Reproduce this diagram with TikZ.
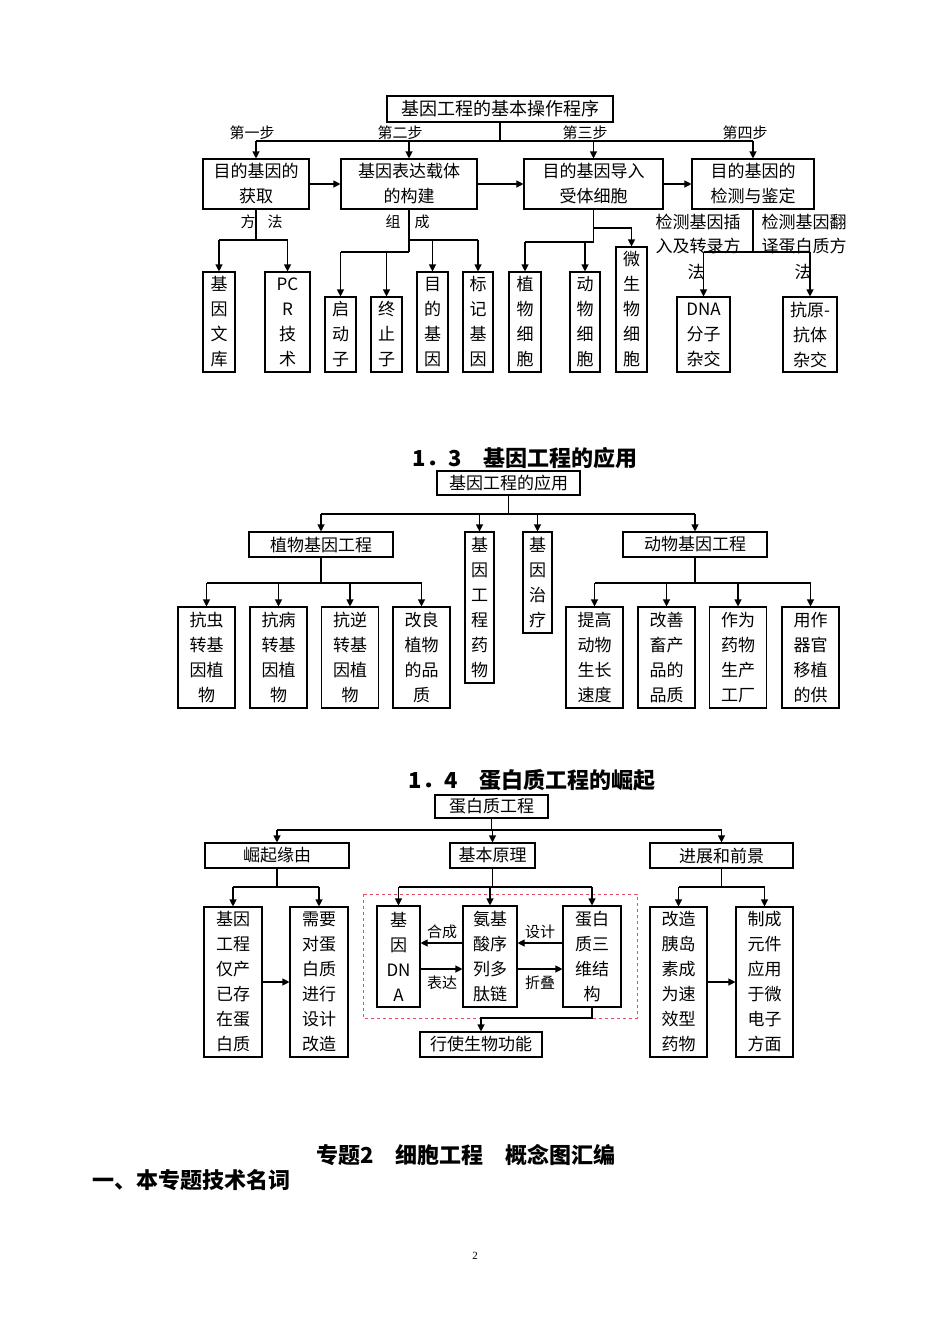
\documentclass[tikz,border=0pt]{standalone}
\usepackage{fontspec}
\setmainfont{Noto Sans CJK SC}
\newfontfamily\pagefont{Liberation Serif}
\usetikzlibrary{arrows.meta}
\definecolor{dashred}{RGB}{225,80,100}

\begin{document}
\begin{tikzpicture}[x=1pt,y=-1pt,line width=1.1pt,
  box/.style={draw,inner sep=0pt,align=center,font=\fontsize{17}{25}\selectfont},
  arr/.style={-{Triangle[length=7pt,width=7pt]}},
  lbl/.style={inner sep=0pt,font=\fontsize{15}{24}\selectfont},
  head/.style={inner sep=0pt,font=\bfseries\fontsize{22}{22}\selectfont}]
\fill[white] (0,0) rectangle (950,1344);

% basic operation steps
\node[box,minimum width=226,minimum height=26,font=\fontsize{18}{25}\selectfont] (t0) at (500,109) {基因工程的基本操作程序};
\node[box,minimum width=106,minimum height=50] (b1) at (256,184) {目的基因的\\获取};
\node[box,minimum width=136,minimum height=50] (b2) at (409,184) {基因表达载体\\的构建};
\node[box,minimum width=139,minimum height=50] (b3) at (593.5,184) {目的基因导入\\受体细胞};
\node[box,minimum width=122,minimum height=50] (b4) at (753,184) {目的基因的\\检测与鉴定};

\node[box,minimum width=32,minimum height=100] (k1) at (219,322) {基\\因\\文\\库};
\node[box,minimum width=45,minimum height=100] (k2) at (287.5,322) {PC\\R\\技\\术};
\node[box,minimum width=31,minimum height=75] (k3) at (340.5,334.5) {启\\动\\子};
\node[box,minimum width=31,minimum height=75] (k4) at (386.5,334.5) {终\\止\\子};
\node[box,minimum width=31,minimum height=100] (k5) at (432.5,322) {目\\的\\基\\因};
\node[box,minimum width=30,minimum height=100] (k6) at (478,322) {标\\记\\基\\因};
\node[box,minimum width=32,minimum height=100] (k7) at (525,322) {植\\物\\细\\胞};
\node[box,minimum width=30,minimum height=100] (k8) at (585,322) {动\\物\\细\\胞};
\node[box,minimum width=31,minimum height=125] (k9) at (631.5,309.5) {微\\生\\物\\细\\胞};
\node[box,minimum width=53,minimum height=75] (k10) at (703.5,334.5) {DNA\\分子\\杂交};
\node[box,minimum width=54,minimum height=75] (k11) at (810,334.5) {抗原-\\抗体\\杂交};

\node[lbl] (st1) at (252,133) {第一步};
\node[lbl] (st2) at (400,133) {第二步};
\node[lbl] (st3) at (585,133) {第三步};
\node[lbl] (st4) at (745,133) {第四步};
\node[lbl] (fa1) at (248,222) {方};
\node[lbl] (fa2) at (275,222) {法};
\node[lbl] (zu1) at (393,222) {组};
\node[lbl] (zu2) at (422,222) {成};
\node[lbl,align=center,font=\fontsize{17}{24}\selectfont] (jc1) at (698,234) {检测基因插\\入及转录方};
\node[lbl,font=\fontsize{17}{24}\selectfont] (jc2) at (696,272) {法};
\node[lbl,align=center,font=\fontsize{17}{24}\selectfont] (jc3) at (804,234) {检测基因翻\\译蛋白质方};
\node[lbl,font=\fontsize{17}{24}\selectfont] (jc4) at (803,272) {法};

\coordinate (sl) at (0,141);
\coordinate (j1) at (0,240);
\coordinate (j2) at (0,228);
\coordinate (j3) at (0,252);
\coordinate (j4) at (0,242);

\draw (t0.south) -- (t0.south |- sl);
\draw (b1.north |- sl) -- (b4.north |- sl);
\foreach \n in {b1,b2,b3,b4} \draw[arr] (\n.north |- sl) -- (\n.north);
\foreach \p/\q in {b1/b2,b2/b3,b3/b4} \draw[arr] (\p) -- (\q);
% step 1
\draw (b1.south) -- (b1.south |- j1);
\draw (k1.north |- j1) -- (k2.north |- j1);
\foreach \n in {k1,k2} \draw[arr] (\n.north |- j1) -- (\n.north);
% step 2
\draw (b2.south) -- (b2.south |- j3);
\draw (k3.north |- j3) -- (b2.south |- j3);
\draw (b2.south |- j1) -- (k6.north |- j1);
\foreach \n in {k3,k4} \draw[arr] (\n.north |- j3) -- (\n.north);
\foreach \n in {k5,k6} \draw[arr] (\n.north |- j1) -- (\n.north);
% step 3
\draw (b3.south) -- (b3.south |- j4);
\draw (k7.north |- j4) -- (b3.south |- j4);
\draw[arr] (b3.south |- j2) -| (k9.north);
\foreach \n in {k7,k8} \draw[arr] (\n.north |- j4) -- (\n.north);
% step 4
\draw (b4.south) -- (b4.south |- j3);
\draw (k10.north |- j3) -- (k11.north |- j3);
\foreach \n in {k10,k11} \draw[arr] (\n.north |- j3) -- (\n.north);

% 1.3 applications
\node[head] (h13) at (525,458) {1．3　基因工程的应用};
\node[box,minimum width=143,minimum height=24] (a0) at (508.5,483) {基因工程的应用};
\node[box,minimum width=144,minimum height=25] (a1) at (321,544.5) {植物基因工程};
\node[box,minimum width=29,minimum height=151] (a2) at (479.5,607.5) {基\\因\\工\\程\\药\\物};
\node[box,minimum width=29,minimum height=101] (a3) at (537.5,582.5) {基\\因\\治\\疗};
\node[box,minimum width=144,minimum height=25] (a4) at (695,544.5) {动物基因工程};

\node[box,minimum width=57,minimum height=101] (p1) at (206.5,657.5) {抗虫\\转基\\因植\\物};
\node[box,minimum width=57,minimum height=101] (p2) at (278.5,657.5) {抗病\\转基\\因植\\物};
\node[box,minimum width=57,minimum height=101] (p3) at (350,657.5) {抗逆\\转基\\因植\\物};
\node[box,minimum width=57,minimum height=101] (p4) at (421.5,657.5) {改良\\植物\\的品\\质};
\node[box,minimum width=57,minimum height=101] (q1) at (594.5,657.5) {提高\\动物\\生长\\速度};
\node[box,minimum width=57,minimum height=101] (q2) at (666.5,657.5) {改善\\畜产\\品的\\品质};
\node[box,minimum width=57,minimum height=101] (q3) at (738,657.5) {作为\\药物\\生产\\工厂};
\node[box,minimum width=57,minimum height=101] (q4) at (810.5,657.5) {用作\\器官\\移植\\的供};

\coordinate (c1) at (0,514);
\coordinate (c2) at (0,583);
\draw (a0.south) -- (a0.south |- c1);
\draw (a1.north |- c1) -- (a4.north |- c1);
\foreach \n in {a1,a2,a3,a4} \draw[arr] (\n.north |- c1) -- (\n.north);
\draw (a1.south) -- (a1.south |- c2);
\draw (p1.north |- c2) -- (p4.north |- c2);
\foreach \n in {p1,p2,p3,p4} \draw[arr] (\n.north |- c2) -- (\n.north);
\draw (a4.south) -- (a4.south |- c2);
\draw (q1.north |- c2) -- (q4.north |- c2);
\foreach \n in {q1,q2,q3,q4} \draw[arr] (\n.north |- c2) -- (\n.north);

% 1.4 protein engineering
\node[head] (h14) at (532,780) {1．4　蛋白质工程的崛起};
\node[box,minimum width=113,minimum height=23] (r0) at (491.5,806.5) {蛋白质工程};
\node[box,minimum width=144,minimum height=25] (r1) at (277,855.5) {崛起缘由};
\node[box,minimum width=85,minimum height=25] (r2) at (492.5,855.5) {基本原理};
\node[box,minimum width=143,minimum height=25] (r3) at (721.5,855.5) {进展和前景};

\node[box,minimum width=58,minimum height=150] (s1) at (233,982) {基因\\工程\\仅产\\已存\\在蛋\\白质};
\node[box,minimum width=58,minimum height=150] (s2) at (319,982) {需要\\对蛋\\白质\\进行\\设计\\改造};
\node[box,minimum width=57,minimum height=150] (u1) at (678.5,982) {改造\\胰岛\\素成\\为速\\效型\\药物};
\node[box,minimum width=57,minimum height=150] (u2) at (764.5,982) {制成\\元件\\应用\\于微\\电子\\方面};

\node[box,minimum width=43,minimum height=101] (m1) at (398.5,956.5) {基\\因\\DN\\A};
\node[box,minimum width=54,minimum height=101] (m2) at (490,956.5) {氨基\\酸序\\列多\\肽链};
\node[box,minimum width=58,minimum height=101] (m3) at (592,956.5) {蛋白\\质三\\维结\\构};
\node[box,minimum width=122,minimum height=25] (m4) at (481,1044.5) {行使生物功能};
\draw[dashred,dashed,line width=0.8pt] (363,894) rectangle (637,1018);

\node[lbl] (hc) at (442,932) {合成};
\node[lbl] (bd) at (442,983) {表达};
\node[lbl] (sj) at (540,932) {设计};
\node[lbl] (zd) at (540,983) {折叠};

\coordinate (c3) at (0,830);
\coordinate (c4) at (0,887);
\coordinate (c5) at (0,1018);
\coordinate (h1) at (0,943);
\coordinate (h2) at (0,969);
\draw (r0.south) -- (r0.south |- c3);
\draw (r1.north |- c3) -- (r3.north |- c3);
\foreach \n in {r1,r2,r3} \draw[arr] (\n.north |- c3) -- (\n.north);
\draw (r1.south) -- (r1.south |- c4);
\draw (s1.north |- c4) -- (s2.north |- c4);
\foreach \n in {s1,s2} \draw[arr] (\n.north |- c4) -- (\n.north);
\draw (r3.south) -- (r3.south |- c4);
\draw (u1.north |- c4) -- (u2.north |- c4);
\foreach \n in {u1,u2} \draw[arr] (\n.north |- c4) -- (\n.north);
\draw (r2.south) -- (r2.south |- c4);
\draw (m1.north |- c4) -- (m3.north |- c4);
\foreach \n in {m1,m2,m3} \draw[arr] (\n.north |- c4) -- (\n.north);
\draw[arr] (s1) -- (s2);
\draw[arr] (u1) -- (u2);
\draw[arr] (m2.west |- h1) -- (m1.east |- h1);
\draw[arr] (m1.east |- h2) -- (m2.west |- h2);
\draw[arr] (m3.west |- h1) -- (m2.east |- h1);
\draw[arr] (m2.east |- h2) -- (m3.west |- h2);
\draw[arr] (m3.south) -- (m3.south |- c5) -| (m4.north);

% next chapter
\node[head] (h2t) at (466,1155) {专题2　细胞工程　概念图汇编};
\node[head,anchor=west] (h2s) at (92,1180) {一、本专题技术名词};
\node[inner sep=0pt,font=\pagefont\fontsize{11}{11}\selectfont] (pg) at (475,1256) {2};
\end{tikzpicture}
\end{document}
